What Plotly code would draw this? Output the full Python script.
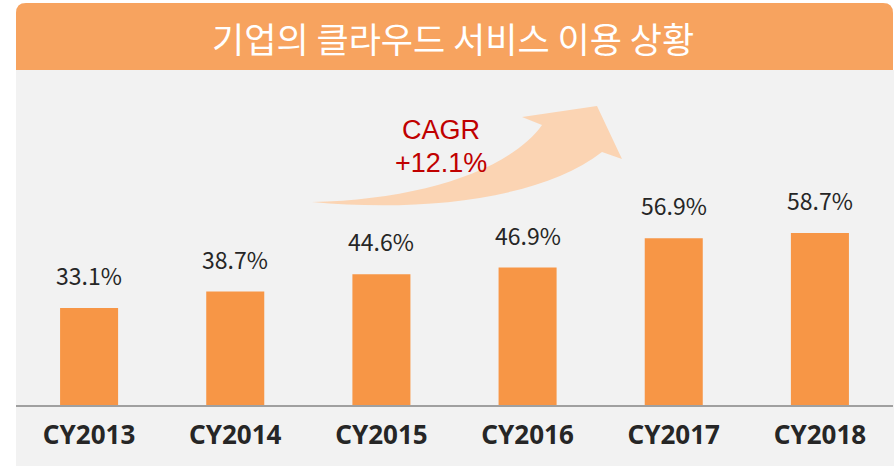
import plotly.graph_objects as go

# Share of companies using cloud services, by calendar year
categories = ["CY2013", "CY2014", "CY2015", "CY2016", "CY2017", "CY2018"]
usage_pct = [33.1, 38.7, 44.6, 46.9, 56.9, 58.7]
value_labels = [f"{v:.1f}%" for v in usage_pct]
title_text = "기업의 클라우드 서비스 이용 상황"
cagr_lines = ["CAGR", "+12.1%"]

W, H = 894, 467
L, R, T, B = 16, 1, 70, 62          # plot-area margins in px
PX_PER_PCT = 2.93                    # vertical scale of the bars
plot_h = H - T - B
y_max = plot_h / PX_PER_PCT

BAR = "#F79646"
BANNER = "#F7A35F"
PANEL = "#F2F2F2"
TEXT = "#262626"
RED = "#C00000"
FONT = "Noto Sans CJK KR"


def px(x):
    """pixel x -> paper x"""
    return (x - L) / (W - L - R)


def py(y):
    """pixel y -> paper y"""
    return (H - B - y) / plot_h


def path(cmds):
    out = []
    for c in cmds:
        if isinstance(c, str):
            out.append(c)
        else:
            out.append(f"{px(c[0]):.5f},{py(c[1]):.5f}")
    return " ".join(out)


fig = go.Figure()
fig.add_trace(go.Bar(
    x=categories, y=usage_pct, marker=dict(color=BAR, line=dict(width=0)),
    hoverinfo="skip",
))

shapes = []
# grey panel behind the chart
shapes.append(dict(type="rect", xref="paper", yref="paper", layer="below",
                   x0=px(16), x1=px(894), y0=py(466), y1=py(70),
                   fillcolor=PANEL, line=dict(width=0)))
# title banner with rounded top corners
r = 10
banner = path(["M", (16, 70), "L", (16, 3 + r), "Q", (16, 3), (16 + r, 3),
               "L", (893 - r, 3), "Q", (893, 3), (893, 3 + r),
               "L", (893, 70), "Z"])
shapes.append(dict(type="path", xref="paper", yref="paper", layer="below",
                   path=banner, fillcolor=BANNER, line=dict(width=0)))
# growth swoosh arrow
arrow = path(["M", (312, 202), "C", (420, 200), (510, 170), (542, 125),
              "L", (522, 117), "L", (597, 106), "L", (622, 159), "L", (602, 152),
              "C", (540, 200), (420, 212), (312, 202), "Z"])
shapes.append(dict(type="path", xref="paper", yref="paper", layer="below",
                   path=arrow, fillcolor="#FBD4B3", line=dict(width=0)))

annotations = []
for cat, v, lab in zip(categories, usage_pct, value_labels):
    annotations.append(dict(x=cat, y=v, xref="x", yref="y", text=lab,
                            showarrow=False, yanchor="bottom", yshift=14,
                            font=dict(family=FONT, size=23, color=TEXT)))
annotations.append(dict(x=px(453), y=py(38), xref="paper", yref="paper",
                        text=title_text, showarrow=False, yanchor="middle",
                        font=dict(family=FONT, size=35, color="white")))
# CAGR callout, one annotation per line
for line, y_px in zip(cagr_lines, [130, 163]):
    annotations.append(dict(x=px(441), y=py(y_px), xref="paper", yref="paper",
                            text=line, showarrow=False, yanchor="middle",
                            borderpad=0,
                            font=dict(family="Liberation Sans", size=27, color=RED)))

fig.update_layout(
    width=W, height=H,
    margin=dict(l=L, r=R, t=T, b=B, pad=0),
    paper_bgcolor="white", plot_bgcolor="rgba(0,0,0,0)",
    bargap=0.603, showlegend=False,
    shapes=shapes, annotations=annotations,
    xaxis=dict(showline=True, linecolor="#A0A0A0", linewidth=2,
               showgrid=False, ticks="", ticklabelstandoff=6,
               tickfont=dict(family="Noto Sans", size=26, color=TEXT, weight="bold"),
               fixedrange=True),
    yaxis=dict(range=[0, y_max], visible=False, fixedrange=True),
)

fig.write_html("out.html")
